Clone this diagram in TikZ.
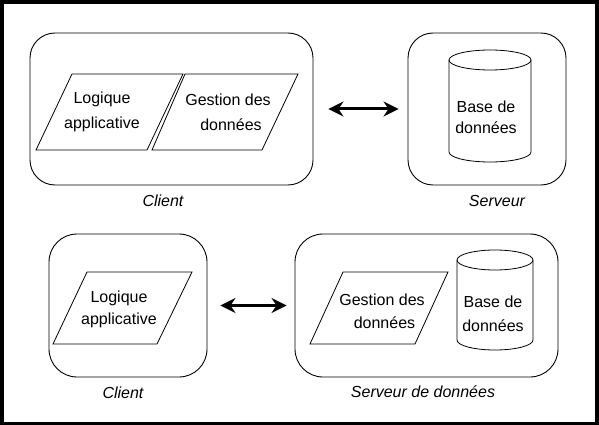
\documentclass[tikz,border=0pt]{standalone}
\usepackage{fontspec}
\setmainfont{Liberation Sans}
\usetikzlibrary{arrows.meta}
\begin{document}
\begin{tikzpicture}[x=1pt,y=-1pt,
  cont/.style={draw,line width=0.9pt,rounded corners=25pt},
  shp/.style={draw,line width=0.8pt},
  lbl/.style={font=\fontsize{16}{22}\selectfont,align=center,inner sep=0pt},
  boxcaption/.style={font=\fontsize{16}{19}\selectfont\itshape,inner sep=0pt},
  link/.style={line width=3pt,{Stealth[length=15pt,width=15pt]}-{Stealth[length=15pt,width=15pt]}}]
\useasboundingbox (0,0) rectangle (599,425);
\fill[black] (0,0) rectangle (599,425);
\fill[white] (4,4) rectangle (595,422);
% top row
\node[cont,minimum width=283pt,minimum height=152pt] (cl1) at (171.5,109) {};
\node[cont,minimum width=158pt,minimum height=152pt] (sv1) at (487,109) {};
\draw[shp] (72,74) -- (183,74) -- (147,150) -- (36,150) -- cycle;
\draw[shp] (185,74) -- (298,74) -- (262,150) -- (152,150) -- cycle;
\node[lbl,font=\fontsize{16}{25}\selectfont] (la1) at (102,112) {Logique\\applicative};
\node[lbl,font=\fontsize{16}{25}\selectfont] (gd1) at (228,112) {Gestion des\\\hspace*{6pt}données};
\draw[shp] (449,60) -- (449,152) arc[start angle=180,end angle=360,x radius=41,y radius=-10] -- (531,60);
\draw[shp] (490,60) ellipse[x radius=41,y radius=10];
\node[lbl,font=\fontsize{16}{21}\selectfont] (bd1) at (486,117) {Base de\\données};
\node[boxcaption] (c1) at (163,201) {Client};
\node[boxcaption] (s1) at (497,201) {Serveur};
\draw[link,shorten <=15pt,shorten >=9pt] (cl1.east) -- (sv1.west);
% bottom row
\node[cont,rounded corners=28pt,minimum width=158pt,minimum height=143pt] (cl2) at (128,305.5) {};
\node[cont,rounded corners=28pt,minimum width=263pt,minimum height=143pt] (sv2) at (426.5,305.5) {};
\draw[shp] (87,272) -- (192,272) -- (157,344) -- (53,344) -- cycle;
\node[lbl] (la2) at (119,309) {Logique\\applicative};
\draw[shp] (343,272) -- (448,272) -- (415,344) -- (310,344) -- cycle;
\node[lbl,font=\fontsize{16}{23}\selectfont] (gd2) at (382,311) {Gestion des\\\hspace*{5pt}données};
\draw[shp] (457,260) -- (457,340) arc[start angle=180,end angle=360,x radius=38,y radius=-10] -- (533,260);
\draw[shp] (495,260) ellipse[x radius=38,y radius=10];
\node[lbl,font=\fontsize{16}{24}\selectfont] (bd2) at (493,314) {Base de\\données};
\node[boxcaption] (c2) at (123,393) {Client};
\node[boxcaption] (s2) at (423,392) {Serveur de données};
\draw[link,shorten <=13pt,shorten >=8pt] (cl2.east) -- (sv2.west);
\end{tikzpicture}
\end{document}
